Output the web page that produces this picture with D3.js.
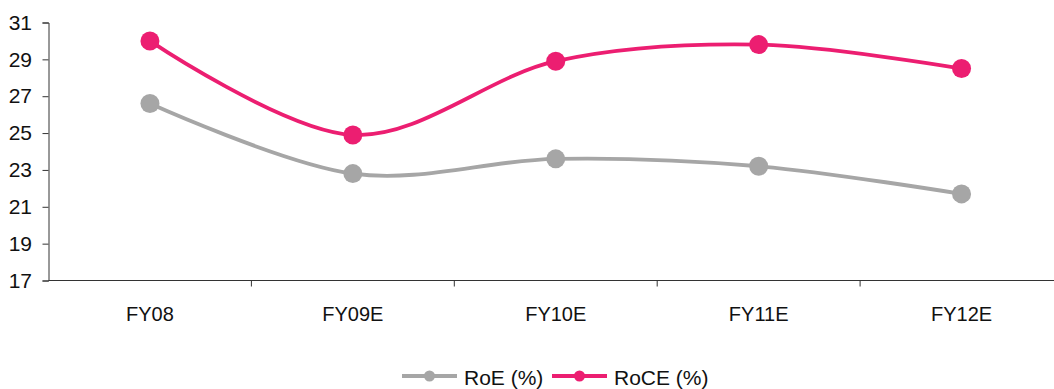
<!DOCTYPE html>
<html>
<head>
<meta charset="utf-8">
<script src="https://cdn.jsdelivr.net/npm/d3@7"></script>
<style>
  html, body { margin: 0; padding: 0; background: #fff; }
  svg { display: block; font-family: "Liberation Sans", Arial, sans-serif; }
</style>
</head>
<body>
<svg id="chart" width="1054" height="389"></svg>
<script>
// Return ratios by fiscal year
const categories = ["FY08", "FY09E", "FY10E", "FY11E", "FY12E"];
const roe = [26.6, 22.8, 23.6, 23.2, 21.7];
const roce = [30.0, 24.9, 28.9, 29.8, 28.5];
const yTicks = [17, 19, 21, 23, 25, 27, 29, 31];
const seriesNames = ["RoE (%)", "RoCE (%)"];
const seriesColors = ["#a6a6a6", "#ec1e71"];

const svg = d3.select("#chart");
const plotLeft = 48.5, plotRight = 1063, plotTop = 22.5, plotBottom = 280.5;

const x = d3.scaleBand().domain(categories).range([plotLeft, plotRight]);
const y = d3.scaleLinear().domain([17, 31]).range([plotBottom, plotTop]);

// Axes
const yAxis = d3.axisLeft(y).tickValues(yTicks).tickSize(6).tickPadding(10.5);
const gy = svg.append("g").attr("transform", `translate(${plotLeft},0)`).call(yAxis);
gy.select(".domain").attr("stroke", "#333");
gy.selectAll(".tick line").attr("stroke", "#333");
gy.selectAll("text").attr("font-size", 21).attr("fill", "#111");

const xAxis = d3.axisBottom(x).tickSize(0).tickPadding(26);
const gx = svg.append("g").attr("transform", `translate(0,${plotBottom})`).call(xAxis);
gx.select(".domain").attr("stroke", "#333").attr("d", `M${plotLeft},0H${plotRight}`);
gx.selectAll("text").attr("font-size", 20).attr("fill", "#111");

// category boundary ticks
const bounds = categories.slice(1).map(c => x(c));
svg.append("g").selectAll("line").data(bounds).join("line")
  .attr("x1", d => d).attr("x2", d => d)
  .attr("y1", plotBottom).attr("y2", plotBottom + 6)
  .attr("stroke", "#333");

const cx = c => x(c) + x.bandwidth() / 2;
const line = d3.line()
  .x((d, i) => cx(categories[i]))
  .y(d => y(d))
  .curve(d3.curveCatmullRom.alpha(0));

[roe, roce].forEach((vals, k) => {
  svg.append("path").datum(vals)
    .attr("d", line)
    .attr("fill", "none")
    .attr("stroke", seriesColors[k])
    .attr("stroke-width", 3.8);
  svg.append("g").selectAll("circle").data(vals).join("circle")
    .attr("cx", (d, i) => cx(categories[i]))
    .attr("cy", d => y(d))
    .attr("r", 9.5)
    .attr("fill", seriesColors[k]);
});

// Legend
const legendX = [402, 552];
seriesNames.forEach((name, k) => {
  const g = svg.append("g").attr("transform", `translate(${legendX[k]},376)`);
  g.append("line").attr("x1", 0).attr("x2", 55).attr("y1", 0).attr("y2", 0)
    .attr("stroke", seriesColors[k]).attr("stroke-width", 3.8);
  g.append("circle").attr("cx", 27.5).attr("cy", 0).attr("r", 5.5).attr("fill", seriesColors[k]);
  g.append("text").attr("x", 62).attr("y", 9).attr("font-size", 21).attr("fill", "#111").text(name);
});
</script>
</body>
</html>
